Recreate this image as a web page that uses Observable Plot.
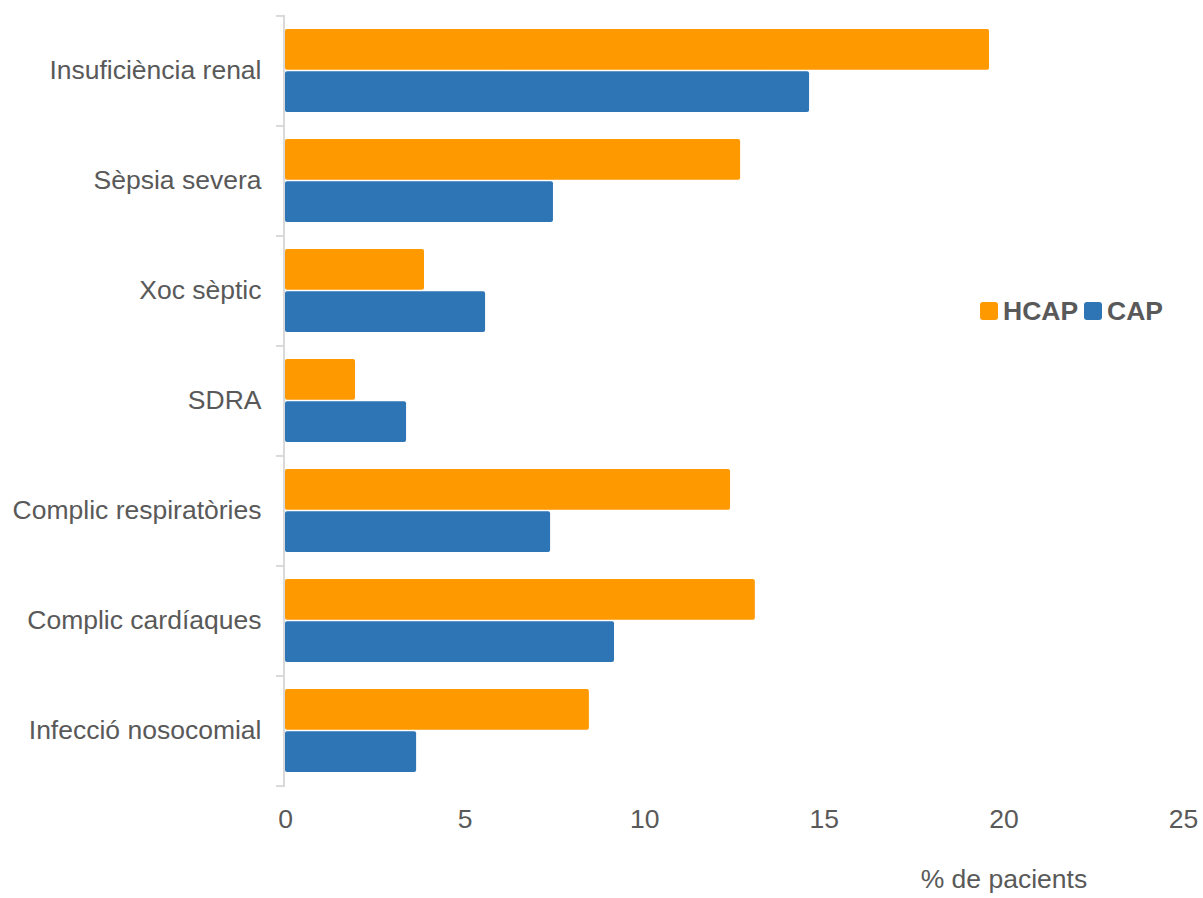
<!DOCTYPE html>
<html>
<head>
<meta charset="utf-8">
<script src="https://cdn.jsdelivr.net/npm/d3@7"></script>
<script src="https://cdn.jsdelivr.net/npm/@observablehq/plot@0.6"></script>
<style>
  html, body { margin: 0; padding: 0; background: #fff; }
  #wrap { position: relative; width: 1203px; height: 898px; font-family: "Liberation Sans", Arial, sans-serif; }
  #legend { position: absolute; left: 980px; top: 295px; display: flex; align-items: center; font-weight: bold; font-size: 26.5px; color: #595959; line-height: 32px; }
  .sw { width: 18px; height: 18px; border-radius: 3px; margin-right: 5px; }
  .item { display: flex; align-items: center; margin-right: 6px; }
</style>
</head>
<body>
<div id="wrap"><div id="legend"></div></div>
<script>
const categories = ["Insuficiència renal", "Sèpsia severa", "Xoc sèptic", "SDRA", "Complic respiratòries", "Complic cardíaques", "Infecció nosocomial"];
const series = ["HCAP", "CAP"];
const hcap = [19.6, 12.67, 3.87, 1.95, 12.39, 13.08, 8.46];
const cap = [14.59, 7.46, 5.57, 3.37, 7.38, 9.16, 3.65];
const colors = ["#FF9900", "#2E75B6"];
const xTicks = [0, 5, 10, 15, 20, 25];
const xLabel = "% de pacients";

const rowsH = categories.map((c, i) => ({cat: c, v: hcap[i]}));
const rowsC = categories.map((c, i) => ({cat: c, v: cap[i]}));

const marginTop = 15, bottomFrame = 786;
const step = (bottomFrame - marginTop) / (categories.length);
const bw = step * 0.75;
const half = bw / 2 + 0.85;
const axisColor = "#d9d9d9";

const chart = Plot.plot({
  width: 1203,
  height: 898,
  marginLeft: 285,
  marginRight: 20,
  marginTop: marginTop,
  marginBottom: 898 - bottomFrame,
  style: {fontFamily: "Liberation Sans, Arial, sans-serif", fontSize: "26.5px", color: "#595959", background: "#fff"},
  x: {domain: [0, 25], ticks: xTicks},
  y: {domain: categories, paddingInner: 0.25, paddingOuter: 0.125},
  marks: [
    Plot.barX(rowsH, {y: "cat", x: "v", fill: colors[0], insetBottom: half, rx: 2}),
    Plot.barX(rowsC, {y: "cat", x: "v", fill: colors[1], insetTop: half, rx: 2}),
    Plot.ruleX([0], {stroke: axisColor, strokeWidth: 2, strokeOpacity: 1, dx: -1.5}),
    Plot.ruleY(categories, {y: d => d, x1: 0, x2: 0, insetLeft: -9, dy: -step / 2, stroke: axisColor, strokeWidth: 2, strokeOpacity: 1}),
    Plot.ruleY(categories.slice(-1), {y: d => d, x1: 0, x2: 0, insetLeft: -9, dy: step / 2, stroke: axisColor, strokeWidth: 2, strokeOpacity: 1}),
    Plot.axisY({tickSize: 0, tickPadding: 24, label: null, fill: "#595959", fontSize: 26.5}),
    Plot.axisX({ticks: xTicks, tickSize: 0, tickPadding: 23, label: null, fill: "#595959", fontSize: 26.5}),
    Plot.text([xLabel], {text: d => d, x: 20, frameAnchor: "bottom", dy: 101, fill: "#595959", fontSize: 26.5})
  ]
});
const wrap = document.getElementById("wrap");
wrap.insertBefore(chart, wrap.firstChild);

const legend = document.getElementById("legend");
series.forEach((s, i) => {
  const it = document.createElement("div");
  it.className = "item";
  const sw = document.createElement("div");
  sw.className = "sw";
  sw.style.background = colors[i];
  const t = document.createElement("span");
  t.textContent = s;
  it.appendChild(sw); it.appendChild(t);
  legend.appendChild(it);
});
</script>
</body>
</html>
